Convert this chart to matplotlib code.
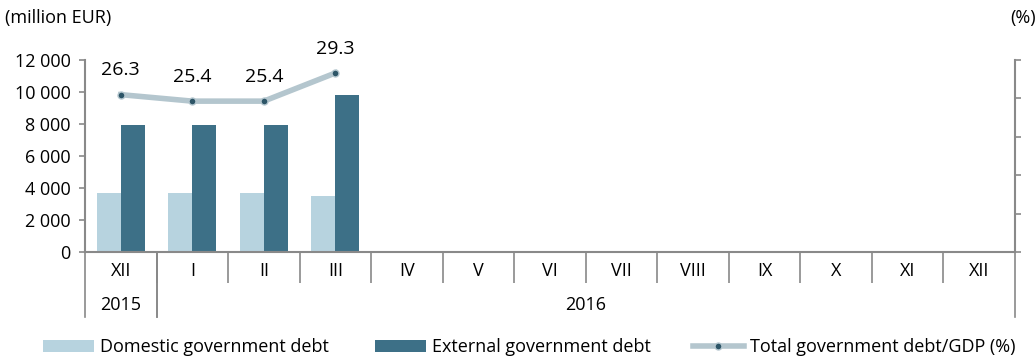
import matplotlib.pyplot as plt
import numpy as np
from matplotlib.patches import Patch
from matplotlib.lines import Line2D

plt.rcParams['font.family'] = ['Open Sans', 'DejaVu Sans']

months = ['XII', 'I', 'II', 'III', 'IV', 'V', 'VI', 'VII', 'VIII', 'IX', 'X', 'XI', 'XII']
domestic = [3660, 3660, 3660, 3530]
external = [7950, 7950, 7950, 9840]
debt_gdp = [26.3, 25.4, 25.4, 29.3]
years = [('2015', 0, 1), ('2016', 1, 13)]

c_dom = '#B7D3DF'
c_ext = '#3D7087'
c_line = '#B4C6CE'
c_mark = '#2D5567'
c_axis = '#898989'
fs = 13

fig = plt.figure(figsize=(10.35, 3.6), dpi=100)
ax = fig.add_axes([85 / 1035, 108 / 360, 930 / 1035, 192 / 360])

w = 0.336
xd = np.arange(len(domestic))
ax.bar(xd - w / 2, domestic, width=w, color=c_dom, zorder=2)
ax.bar(xd + w / 2, external, width=w, color=c_ext, zorder=2)

ax.set_xlim(-0.5, len(months) - 0.5)
ax.set_ylim(0, 12000)
ax.set_yticks(range(0, 12001, 2000))
ax.set_yticklabels([f'{v:,}'.replace(',', ' ') for v in range(0, 12001, 2000)], fontsize=fs)
ax.tick_params(axis='y', direction='out', length=4.3, width=1.2, color=c_axis, pad=6)

ax.set_xticks(np.arange(len(months)))
ax.set_xticklabels(months, fontsize=fs)
ax.tick_params(axis='x', which='major', length=0, pad=7)
ax.set_xticks(np.arange(len(months) - 1) + 0.5, minor=True)
ax.tick_params(axis='x', which='minor', length=22, width=1.2, color=c_axis, direction='out')

for s in ['top', 'right']:
    ax.spines[s].set_visible(False)
for s in ['left', 'bottom']:
    ax.spines[s].set_color(c_axis)
    ax.spines[s].set_linewidth(1.5)

# year separators and labels
tr = ax.get_xaxis_transform()
for name, a, b in years:
    for xx in (a - 0.5, b - 0.5):
        ax.plot([xx, xx], [0, -0.339], transform=tr, color=c_axis, lw=1.2, clip_on=False)
    ax.text((a + b - 1) / 2, -0.275, name, transform=tr, ha='center', va='center', fontsize=fs)

ax2 = ax.twinx()
ax2.set_ylim(4.5, 31.1)
ax2.set_yticks(np.linspace(4.5, 31.1, 6))
ax2.set_yticklabels([])
ax2.tick_params(axis='y', direction='out', length=4.3, width=1.2, color=c_axis)
for s in ['top', 'left', 'bottom']:
    ax2.spines[s].set_visible(False)
ax2.spines['right'].set_color(c_axis)
ax2.spines['right'].set_linewidth(1.5)

xl = np.arange(len(debt_gdp))
ax2.plot(xl, debt_gdp, color=c_line, lw=4, marker='o', markersize=5,
         markerfacecolor=c_mark, markeredgecolor=c_line, markeredgewidth=1, zorder=3)
for x, v in zip(xl, debt_gdp):
    ax2.annotate(f'{v:.1f}', (x, v), xytext=(0, 11), textcoords='offset points',
                 ha='center', va='bottom', fontsize=14)

fig.text(5 / 1035, 1 - 18 / 360, '(million EUR)', ha='left', va='center', fontsize=fs)
fig.text(1010 / 1035, 1 - 18 / 360, '(%)', ha='left', va='center', fontsize=fs)

leg_items = [
    (Patch(facecolor=c_dom), 'Domestic government debt', 43),
    (Patch(facecolor=c_ext), 'External government debt', 375),
    (Line2D([], [], color=c_line, lw=4, marker='o', markersize=5,
            markerfacecolor=c_mark, markeredgecolor=c_line), 'Total government debt/GDP (%)', 693),
]
for h, lab, px in leg_items:
    fig.legend([h], [lab], loc='center left', bbox_to_anchor=(px / 1035, 1 - 347 / 360),
               frameon=False, fontsize=fs, borderpad=0, borderaxespad=0,
               handlelength=2.8, handleheight=0.65, handletextpad=0.35)

fig.savefig('out.png', dpi=100)
